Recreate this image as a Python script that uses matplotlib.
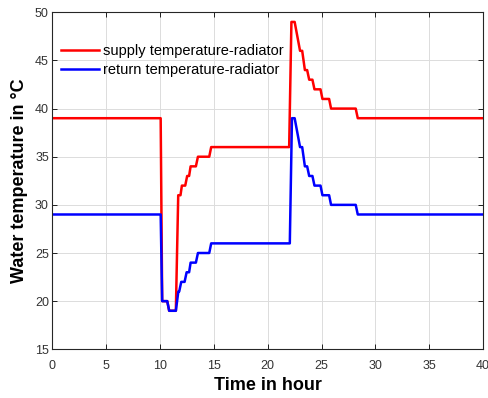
import matplotlib
matplotlib.use("Agg")
import matplotlib.pyplot as plt

plt.rcParams['font.family'] = ['Liberation Sans', 'DejaVu Sans']

# Time (hour) breakpoints and temperatures (°C)
supply_t = [0, 10.06, 10.2, 10.67, 10.85, 11.47, 11.69, 11.9, 12.03, 12.34, 12.52, 12.7, 12.84, 13.33,
            13.52, 14.57, 14.75, 21.99, 22.2, 22.5, 23.0, 23.2, 23.45, 23.66, 23.85, 24.15, 24.34, 24.9,
            25.08, 25.7, 25.88, 28.17, 28.36, 40]
supply_T = [39, 39, 20, 20, 19, 19, 31, 31, 32, 32, 33, 33, 34, 34,
            35, 35, 36, 36, 49, 49, 46, 46, 44, 44, 43, 43, 42, 42,
            41, 41, 40, 40, 39, 39]

return_t = [0, 10.06, 10.2, 10.67, 10.85, 11.47, 11.7, 11.78, 11.97, 12.28, 12.47, 12.7, 12.84, 13.33,
            13.52, 14.57, 14.75, 22.05, 22.25, 22.5, 23.0, 23.2, 23.45, 23.66, 23.85, 24.15, 24.34, 24.9,
            25.08, 25.7, 25.88, 28.17, 28.36, 40]
return_T = [29, 29, 20, 20, 19, 19, 21, 21, 22, 22, 23, 23, 24, 24,
            25, 25, 26, 26, 39, 39, 36, 36, 34, 34, 33, 33, 32, 32,
            31, 31, 30, 30, 29, 29]

x_ticks = [0, 5, 10, 15, 20, 25, 30, 35, 40]
y_ticks = [15, 20, 25, 30, 35, 40, 45, 50]

fig = plt.figure(figsize=(4.89, 3.98), dpi=100)
ax = fig.add_axes([0.107, 0.1224, 0.881, 0.8467])

ax.plot(supply_t, supply_T, color='#ff0000', lw=1.8, label='supply temperature-radiator')
ax.plot(return_t, return_T, color='#0000ff', lw=1.8, label='return temperature-radiator')

ax.set_xlim(0, 40)
ax.set_ylim(15, 50)
ax.set_xticks(x_ticks)
ax.set_yticks(y_ticks)
ax.grid(True, color='#dcdcdc', lw=0.7)
ax.set_axisbelow(True)
ax.tick_params(direction='in', top=True, right=True, length=3.5, width=0.6,
               labelsize=9, labelcolor='#333333')
ax.tick_params(axis='x', pad=7.5)
ax.tick_params(axis='y', pad=2.5)
for s in ax.spines.values():
    s.set_linewidth(0.8)
    s.set_color('#262626')

ax.set_xlabel('Time in hour', fontsize=13, fontweight='bold', labelpad=4)
ax.set_ylabel('Water temperature in °C', fontsize=13, fontweight='bold', labelpad=5)

ax.legend(loc='upper left', bbox_to_anchor=(0.02, 0.905), frameon=False, fontsize=10.5,
          handlelength=2.6, handletextpad=0.3, borderaxespad=0, borderpad=0, labelspacing=0.35)

fig.savefig('out.png', dpi=100)
